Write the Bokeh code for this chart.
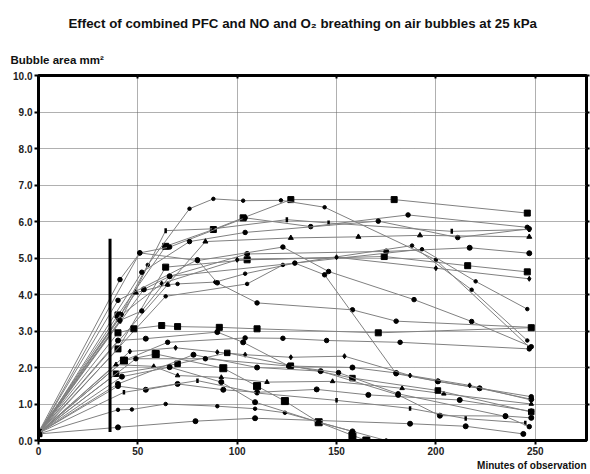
from bokeh.plotting import figure
from bokeh.models import Range1d, LinearAxis, FixedTicker, Title
from bokeh.embed import file_html
from bokeh.resources import INLINE
import math

# ---- axis ticks -------------------------------------------------------
x_ticks = [0, 50, 100, 150, 200, 250]
y_ticks = [0, 1, 2, 3, 4, 5, 6, 7, 8, 9, 10]
y_tick_labels = ["0.0", "1.0", "2.0", "3.0", "4.0", "5.0", "6.0", "7.0", "8.0", "9.0", "10.0"]

# ---- vertical reference bar (start of combined breathing) --------------
bar_time = 36
bar_low = 0.23
bar_high = 5.53

# ---- bubble area (mm^2) vs minutes, one pair of lists per bubble --------
h1_t = [0, 40, 64, 88, 103, 127, 179, 246]
h1_v = [0.20, 3.44, 5.32, 5.78, 6.10, 6.60, 6.60, 6.23]
h2_t = [0, 40, 55, 76, 88, 103, 122, 144, 200, 247]
h2_v = [0.25, 3.30, 4.81, 6.35, 6.62, 6.57, 6.58, 6.39, 4.95, 2.56]
h3_t = [0, 41, 64, 88, 125, 146, 208, 247]
h3_v = [0.20, 3.27, 5.75, 5.80, 6.05, 5.96, 5.73, 5.78]
h4_t = [0, 51, 66, 104, 137, 186, 246]
h4_v = [0.18, 5.14, 5.30, 6.10, 5.86, 6.18, 5.84]
h5_t = [0, 52, 76, 104, 171, 211, 247]
h5_v = [0.15, 4.61, 5.45, 5.70, 6.01, 5.56, 5.80]
h6_t = [0, 49, 65, 84, 127, 161, 192, 247]
h6_v = [0.20, 4.05, 4.27, 5.45, 5.55, 5.58, 5.62, 5.58]
h7_t = [0, 40, 64, 105, 174, 216, 246]
h7_v = [0.20, 2.51, 4.75, 4.95, 5.04, 4.79, 4.62]
h8_t = [0, 53, 66, 105, 175, 217, 247]
h8_v = [0.18, 4.14, 4.50, 5.11, 5.18, 5.28, 5.13]
h9_t = [0, 41, 51, 80, 123, 146, 189, 218, 248]
h9_v = [0.22, 4.41, 5.14, 4.93, 5.30, 4.63, 3.86, 3.26, 2.57]
h10_t = [0, 65, 70, 89, 104, 129, 193, 220, 246]
h10_v = [0.20, 4.27, 4.29, 4.34, 4.57, 4.86, 5.24, 4.36, 3.60]
h11_t = [0, 64, 105, 123, 188, 218, 246]
h11_v = [0.15, 3.95, 4.29, 4.81, 5.34, 4.13, 2.74]
h12_t = [0, 40, 80, 90, 110, 158, 180, 248]
h12_v = [0.20, 3.84, 4.95, 4.32, 3.77, 3.58, 3.27, 3.10]
h13_t = [0, 42, 62, 100, 150, 200, 247]
h13_v = [0.18, 3.45, 4.30, 4.95, 5.02, 4.72, 4.43]
h14_t = [0, 41, 52, 66, 129, 144, 180, 201, 248]
h14_v = [0.20, 3.29, 3.55, 4.50, 4.86, 4.54, 1.83, 1.62, 1.20]

m1_t = [0, 40, 48, 62, 70, 91, 110, 171, 248]
m1_v = [0.20, 2.95, 3.06, 3.15, 3.12, 3.10, 3.06, 2.95, 3.09]
m2_t = [0, 40, 54, 90, 103, 126, 158, 180, 201, 222, 248]
m2_v = [0.20, 2.74, 2.79, 2.97, 2.69, 2.04, 2.00, 1.85, 1.62, 1.43, 1.13]
m3_t = [0, 43, 65, 104, 123, 145, 182, 247]
m3_v = [0.20, 2.19, 2.69, 2.81, 2.80, 2.74, 2.69, 2.51]
m4_t = [0, 46, 69, 90, 104, 127, 154, 187, 217, 248]
m4_v = [0.20, 2.44, 2.54, 2.42, 2.35, 2.28, 2.31, 1.78, 1.51, 1.11]
m5_t = [0, 43, 59, 93, 110, 124, 141, 158, 165]
m5_v = [0.20, 2.19, 2.37, 1.98, 1.49, 1.08, 0.50, 0.14, 0.00]
m6_t = [0, 39, 58, 70, 92, 115, 148, 183, 204, 248]
m6_v = [0.20, 2.08, 2.03, 1.78, 1.73, 1.60, 1.62, 1.43, 1.28, 1.00]
m7_t = [0, 40, 54, 70, 93, 110, 140, 166, 212, 248]
m7_v = [0.20, 1.49, 1.39, 1.55, 1.39, 1.32, 1.40, 1.25, 1.11, 0.80]
m8_t = [0, 40, 47, 64, 90, 109, 124, 158, 175]
m8_v = [0.18, 0.84, 0.85, 1.00, 0.94, 0.87, 0.76, 0.25, 0.00]
m9_t = [0, 40, 79, 109, 187, 215, 244]
m9_v = [0.18, 0.36, 0.53, 0.61, 0.46, 0.39, 0.18]
m10_t = [0, 39, 70, 95, 127, 158, 201, 248]
m10_v = [0.20, 1.83, 2.10, 2.40, 2.05, 1.71, 1.37, 0.78]
m11_t = [0, 40, 78, 110, 142, 181, 202, 235, 248]
m11_v = [0.20, 1.55, 2.35, 2.00, 1.90, 1.25, 0.68, 0.67, 0.62]
m12_t = [0, 43, 80, 110, 150, 187, 215, 245]
m12_v = [0.20, 1.32, 1.64, 1.30, 1.10, 0.88, 0.60, 0.48]
m13_t = [0, 49, 84, 126, 151, 181, 235, 247]
m13_v = [0.20, 2.24, 2.24, 2.04, 1.86, 1.28, 0.66, 0.38]
m14_t = [0, 42, 66, 92, 109, 141, 158]
m14_v = [0.20, 1.75, 2.01, 1.60, 1.05, 0.50, 0.25]

# (times, areas, symbol, symbol size)
curves = [
    (h1_t, h1_v, "square", 6), (h2_t, h2_v, "circle", 3.5), (h3_t, h3_v, "bar", 5),
    (h4_t, h4_v, "circle", 4.5), (h5_t, h5_v, "circle", 4.5), (h6_t, h6_v, "triangle", 5),
    (h7_t, h7_v, "square", 6), (h8_t, h8_v, "circle", 5), (h9_t, h9_v, "circle", 4.5),
    (h10_t, h10_v, "circle", 3.5), (h11_t, h11_v, "circle", 3.5), (h12_t, h12_v, "circle", 4.5),
    (h13_t, h13_v, "diamond", 5), (h14_t, h14_v, "circle", 4.5),
    (m1_t, m1_v, "square", 6), (m2_t, m2_v, "circle", 5), (m3_t, m3_v, "circle", 4.5),
    (m4_t, m4_v, "diamond", 5), (m5_t, m5_v, "square", 7), (m6_t, m6_v, "triangle", 4.5),
    (m7_t, m7_v, "circle", 5), (m8_t, m8_v, "circle", 3.5), (m9_t, m9_v, "circle", 5),
    (m10_t, m10_v, "square", 5.5), (m11_t, m11_v, "circle", 5), (m12_t, m12_v, "bar", 4.5),
    (m13_t, m13_v, "circle", 4.5), (m14_t, m14_v, "circle", 5),
]

FONT = "Liberation Sans"

p = figure(width=590, height=474, output_backend="svg", toolbar_location=None,
           title=None, x_range=Range1d(0, 275.8), y_range=Range1d(0, 10),
           min_border_left=38, min_border_right=4, min_border_top=75, min_border_bottom=34,
           background_fill_color="white", border_fill_color="white")

p.outline_line_color = "black"
p.outline_line_width = 3

# dotted grid
p.xgrid.ticker = FixedTicker(ticks=x_ticks[1:])
p.ygrid.ticker = FixedTicker(ticks=y_ticks[1:])
for g in (p.xgrid, p.ygrid):
    g.grid_line_color = "#606060"
    g.grid_line_dash = "1 1"
    g.grid_line_width = 1

# main axes
p.xaxis.ticker = FixedTicker(ticks=x_ticks)
p.yaxis.ticker = FixedTicker(ticks=y_ticks)
p.yaxis.major_label_overrides = {t: lab for t, lab in zip(y_ticks, y_tick_labels)}
for ax in (p.xaxis, p.yaxis):
    ax.axis_line_width = 3
    ax.axis_line_color = "black"
    ax.major_tick_line_width = 2
    ax.major_tick_line_color = "black"
    ax.major_tick_out = 4
    ax.major_tick_in = 0
    ax.minor_tick_line_color = None
    ax.major_label_text_font = FONT
    ax.major_label_text_font_style = "bold"
    ax.major_label_text_font_size = "10px"
    ax.major_label_text_color = "#222222"
p.xaxis.major_label_standoff = 2
p.yaxis.major_label_standoff = 2

# tick marks on the top and right edges of the frame (no labels)
top = LinearAxis(ticker=FixedTicker(ticks=x_ticks[1:]), major_tick_in=3, major_tick_out=0,
                 major_tick_line_width=2, axis_line_color=None, minor_tick_line_color=None,
                 major_label_text_font_size="0px", major_label_text_color=None,
                 major_label_standoff=0)
right = LinearAxis(ticker=FixedTicker(ticks=y_ticks[1:]), major_tick_in=0, major_tick_out=3,
                   major_tick_line_width=2, axis_line_color=None, minor_tick_line_color=None,
                   major_label_text_font_size="0px", major_label_text_color=None,
                   major_label_standoff=0)
p.add_layout(top, "above")
p.add_layout(right, "right")

# bubble curves
for t, v, sym, sz in curves:
    p.line(t, v, line_color="#808080", line_width=1)
    if sym == "bar":
        p.scatter(t, v, marker="dash", size=sz, angle=math.pi / 2,
                  line_color="black", line_width=2.5)
    else:
        p.scatter(t, v, marker=sym, size=sz, fill_color="black", line_color="black")

# reference bar
p.segment(x0=[bar_time], y0=[bar_low], x1=[bar_time], y1=[bar_high],
          line_color="black", line_width=3)

# texts: y-axis caption and chart title above the frame, x caption below
p.add_layout(Title(text="Bubble area mm\u00b2", align="left", offset=-28, standoff=20,
                   text_font=FONT, text_font_style="bold", text_font_size="11.5px",
                   text_color="#111111"), "above")
p.add_layout(Title(text="Effect of combined PFC and NO and O\u2082 breathing on air bubbles at 25 kPa",
                   align="left", offset=30, standoff=22,
                   text_font=FONT, text_font_style="bold", text_font_size="13.3px",
                   text_color="#111111"), "above")
p.add_layout(Title(text="Minutes of observation", align="right", offset=0, standoff=0,
                   text_font=FONT, text_font_style="bold", text_font_size="10px",
                   text_color="#111111"), "below")

open("out.html", "w").write(file_html(p, INLINE))
